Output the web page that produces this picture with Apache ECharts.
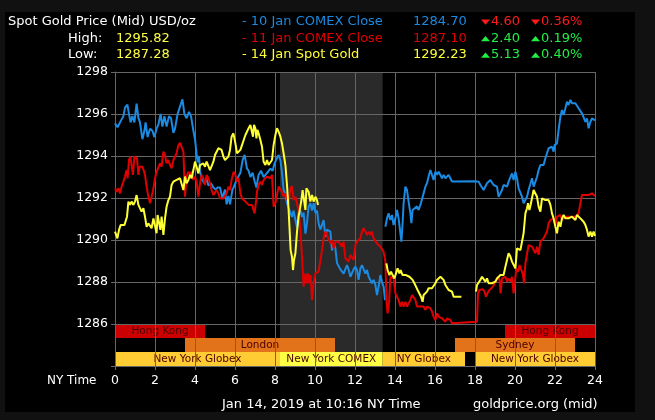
<!DOCTYPE html>
<html><head><meta charset="utf-8">
<script src="https://cdn.jsdelivr.net/npm/echarts@6/dist/echarts.min.js"></script>
<style>
html,body{margin:0;padding:0;background:#111111;}
#wrap{position:relative;width:655px;height:420px;background:#111111;overflow:hidden;}
#panel{position:absolute;left:5px;top:12px;width:630px;height:400px;background:#000;}
#c{position:absolute;left:0;top:0;width:655px;height:420px;}
</style>
</head><body>
<div id="wrap"><div id="panel"></div><div id="c"></div></div>
<script>
// ---- data ----
const xTickLabels = [0,2,4,6,8,10,12,14,16,18,20,22,24];
const yTickLabels = [1286,1288,1290,1292,1294,1296,1298];

// 10 Jan COMEX Close (blue) [hour, price]
const jan10 = [[0,1295.56],[0.13,1295.37],[0.25,1295.6],[0.42,1295.9],[0.5,1296.3],[0.62,1296.45],[0.7,1296.0],[0.78,1295.6],[0.87,1295.9],[0.97,1295.6],[1.08,1296.5],[1.17,1295.8],[1.25,1295.6],[1.37,1294.8],[1.47,1295.2],[1.53,1295.6],[1.63,1294.9],[1.75,1295.3],[1.87,1295.2],[1.97,1294.9],[2.08,1295.3],[2.17,1295.5],[2.28,1296.0],[2.37,1295.4],[2.47,1295.9],[2.58,1295.4],[2.7,1295.9],[2.8,1295.8],[2.92,1295.1],[3.0,1295.3],[3.13,1296.0],[3.25,1296.35],[3.37,1296.7],[3.47,1296.0],[3.58,1295.8],[3.7,1296.1],[3.8,1295.9],[3.92,1295.2],[4.0,1294.8],[4.08,1294.1],[4.13,1293.7],[4.2,1294.0],[4.25,1293.3],[4.33,1292.9],[4.47,1292.7],[4.58,1292.9],[4.67,1292.6],[4.8,1292.7],[4.92,1292.5],[5.03,1292.4],[5.13,1292.5],[5.25,1292.5],[5.37,1292.0],[5.5,1292.4],[5.58,1291.7],[5.67,1292.1],[5.75,1291.7],[5.87,1292.4],[5.93,1292.5],[6.1,1292.9],[6.27,1293.2],[6.38,1293.8],[6.48,1294.05],[6.6,1293.4],[6.68,1293.3],[6.77,1293.0],[6.88,1293.2],[6.98,1292.8],[7.07,1292.5],[7.18,1293.1],[7.3,1293.3],[7.43,1293.0],[7.52,1293.1],[7.65,1293.25],[7.77,1293.4],[7.88,1293.3],[7.98,1293.65],[8.1,1293.9],[8.18,1294.05],[8.27,1293.8],[8.35,1293.2],[8.43,1292.4],[8.52,1292.2],[8.6,1291.75],[8.68,1291.8],[8.77,1291.3],[8.85,1291.1],[8.93,1291.4],[9.02,1290.95],[9.1,1290.6],[9.18,1291.3],[9.27,1291.4],[9.35,1291.1],[9.43,1291.3],[9.52,1290.3],[9.6,1290.8],[9.68,1291.6],[9.77,1291.75],[9.85,1291.4],[9.93,1291.75],[10.02,1291.3],[10.1,1291.4],[10.18,1290.8],[10.27,1290.5],[10.35,1290.55],[10.43,1290.95],[10.52,1290.15],[10.6,1290.5],[10.68,1290.5],[10.77,1290.4],[10.85,1289.5],[10.93,1289.85],[11.02,1289.6],[11.1,1288.9],[11.18,1288.9],[11.27,1288.6],[11.35,1288.65],[11.43,1288.4],[11.52,1288.4],[11.6,1288.8],[11.68,1288.6],[11.77,1288.25],[11.85,1288.3],[11.93,1288.6],[12.02,1288.73],[12.1,1288.57],[12.18,1288.1],[12.27,1288.65],[12.35,1288.8],[12.43,1288.73],[12.52,1288.4],[12.6,1288.57],[12.68,1288.25],[12.77,1288.33],[12.85,1287.94],[12.93,1288.1],[13.02,1287.86],[13.1,1287.38],[13.18,1287.78],[13.27,1288.33],[13.35,1288.0],[13.43,1287.78],[13.5,1287.14],[13.51,null],
[13.52,1290.63],[13.6,1291.03],[13.68,1291.27],[13.77,1290.95],[13.85,1291.19],[13.93,1290.71],[14.02,1291.03],[14.1,1291.43],[14.18,1291.03],[14.27,1290.95],[14.32,1289.92],[14.38,1290.8],[14.43,1291.75],[14.52,1292.54],[14.6,1292.38],[14.68,1291.83],[14.77,1291.27],[14.82,1290.8],[14.88,1291.43],[14.98,1291.35],[15.1,1291.6],[15.18,1291.43],[15.27,1291.67],[15.35,1291.6],[15.43,1292.22],[15.52,1292.54],[15.6,1292.7],[15.68,1293.02],[15.77,1293.33],[15.85,1293.25],[15.93,1292.86],[16.02,1293.25],[16.1,1293.1],[16.18,1293.25],[16.27,1293.1],[16.35,1292.94],[16.43,1293.1],[16.52,1292.94],[16.6,1293.02],[16.68,1293.1],[16.77,1292.94],[16.85,1292.78],[18.02,1292.8],[18.18,1292.78],[18.27,1292.62],[18.35,1292.54],[18.43,1292.38],[18.52,1292.46],[18.6,1292.7],[18.68,1292.78],[18.77,1292.86],[18.85,1292.78],[18.93,1292.62],[19.02,1292.7],[19.1,1292.54],[19.18,1292.06],[19.27,1292.22],[19.35,1292.38],[19.43,1292.62],[19.52,1292.7],[19.6,1292.54],[19.68,1292.78],[19.77,1292.86],[19.85,1293.17],[19.93,1292.86],[20.02,1293.25],[20.1,1292.94],[20.18,1292.46],[20.27,1292.38],[20.35,1292.06],[20.43,1291.75],[20.52,1291.67],[20.6,1292.06],[20.68,1292.38],[20.77,1292.3],[20.85,1292.94],[20.93,1292.54],[21.02,1292.78],[21.1,1293.0],[21.18,1293.33],[21.27,1293.57],[21.35,1293.65],[21.43,1293.57],[21.52,1293.89],[21.6,1294.13],[21.68,1294.37],[21.77,1294.37],[21.85,1294.44],[21.93,1294.21],[21.98,1294.52],[22.1,1294.6],[22.18,1295.24],[22.27,1295.87],[22.35,1296.19],[22.43,1295.95],[22.52,1296.27],[22.6,1296.59],[22.68,1296.43],[22.77,1296.67],[22.85,1296.51],[22.93,1296.59],[23.02,1296.51],[23.1,1296.43],[23.18,1296.27],[23.27,1296.19],[23.35,1296.03],[23.43,1295.95],[23.52,1295.63],[23.6,1295.79],[23.68,1295.32],[23.77,1295.63],[23.85,1295.79],[23.93,1295.79],[24.0,1295.7]];

// 11 Jan COMEX Close (red)
const jan11 = [[0,1292.46],[0.08,1292.3],[0.17,1292.46],[0.25,1292.22],[0.33,1292.54],[0.42,1292.78],[0.5,1293.02],[0.58,1293.33],[0.63,1292.94],[0.7,1293.81],[0.77,1293.97],[0.83,1293.57],[0.9,1293.1],[0.97,1293.97],[1.03,1294.05],[1.1,1293.89],[1.17,1293.1],[1.23,1293.49],[1.3,1293.41],[1.37,1293.49],[1.43,1293.33],[1.5,1293.1],[1.58,1292.54],[1.67,1292.06],[1.75,1291.75],[1.83,1292.06],[1.92,1292.46],[2.0,1292.94],[2.08,1293.25],[2.17,1293.33],[2.25,1293.65],[2.33,1293.49],[2.42,1294.21],[2.5,1294.05],[2.58,1293.65],[2.67,1293.81],[2.75,1293.57],[2.83,1293.41],[2.92,1293.81],[3.0,1293.89],[3.08,1294.13],[3.17,1294.52],[3.25,1294.63],[3.33,1294.6],[3.42,1294.21],[3.5,1292.06],[3.58,1293.02],[3.67,1293.25],[3.75,1293.1],[3.83,1293.25],[3.92,1292.86],[4.0,1293.02],[4.08,1292.78],[4.17,1292.06],[4.25,1292.7],[4.33,1293.1],[4.42,1292.94],[4.5,1292.62],[4.58,1293.1],[4.67,1292.94],[4.75,1292.7],[4.83,1292.38],[4.92,1292.14],[5.0,1292.06],[5.08,1292.38],[5.17,1292.22],[5.25,1291.98],[5.33,1292.06],[5.42,1291.98],[5.5,1291.9],[5.58,1292.22],[5.67,1292.54],[5.75,1292.38],[5.83,1292.86],[5.93,1293.25],[6.02,1293.1],[6.1,1292.78],[6.18,1292.94],[6.27,1292.22],[6.35,1291.98],[6.43,1291.98],[6.52,1291.83],[6.6,1291.9],[6.68,1291.67],[6.77,1291.75],[6.85,1291.67],[6.93,1291.59],[6.98,1291.27],[7.05,1291.83],[7.1,1292.3],[7.18,1292.62],[7.27,1292.78],[7.35,1292.62],[7.43,1292.86],[7.52,1292.94],[7.6,1293.02],[7.68,1293.1],[7.77,1292.94],[7.85,1293.1],[7.93,1291.59],[8.02,1291.75],[8.1,1291.75],[8.18,1292.54],[8.27,1292.57],[8.35,1292.3],[8.43,1292.06],[8.52,1292.22],[8.6,1291.98],[8.68,1291.75],[8.77,1292.46],[8.85,1292.57],[8.93,1291.9],[9.02,1292.06],[9.1,1291.98],[9.18,1291.43],[9.27,1290.48],[9.35,1289.2],[9.43,1287.78],[9.52,1288.41],[9.6,1287.94],[9.65,1288.41],[9.72,1287.94],[9.78,1288.33],[9.85,1287.14],[9.93,1287.94],[10.02,1288.41],[10.1,1288.41],[10.18,1288.49],[10.27,1288.57],[10.35,1289.52],[10.43,1290.08],[10.52,1290.4],[10.6,1290.24],[10.68,1290.16],[10.77,1289.84],[10.85,1290.0],[10.93,1289.6],[11.02,1289.92],[11.1,1290.0],[11.18,1289.92],[11.27,1290.0],[11.35,1289.68],[11.43,1289.92],[11.52,1289.13],[11.6,1289.2],[11.68,1288.97],[11.77,1289.29],[11.85,1289.2],[11.93,1289.05],[12.02,1289.76],[12.1,1289.92],[12.18,1290.0],[12.27,1290.08],[12.35,1290.4],[12.43,1290.56],[12.52,1290.4],[12.6,1290.24],[12.68,1290.4],[12.77,1290.24],[12.85,1290.4],[12.93,1290.08],[13.02,1290.0],[13.1,1289.84],[13.18,1289.92],[13.27,1289.68],[13.35,1289.6],[13.43,1289.44],[13.52,1288.97],[13.57,1287.14],[13.63,1286.51],[13.7,1286.98],[13.77,1288.25],[13.85,1288.33],[13.93,1288.17],[14.02,1287.46],[14.1,1287.46],[14.18,1287.14],[14.27,1286.83],[14.35,1287.06],[14.43,1286.83],[14.52,1287.06],[14.6,1286.83],[14.68,1286.98],[14.77,1287.14],[14.85,1287.38],[14.93,1287.3],[15.02,1287.14],[15.1,1286.83],[15.18,1286.9],[15.27,1286.83],[15.35,1286.75],[15.43,1286.83],[15.52,1286.67],[15.6,1286.83],[15.68,1286.75],[15.77,1286.75],[15.85,1286.59],[15.93,1286.35],[16.02,1286.19],[16.1,1286.51],[16.18,1286.35],[16.27,1286.35],[16.35,1286.27],[16.43,1286.35],[16.52,1286.11],[16.6,1286.27],[16.68,1286.19],[16.77,1286.19],[16.85,1286.03],[16.93,1286.11],[18.1,1286.11],[18.15,1287.46],[18.22,1287.62],[18.32,1287.7],[18.4,1287.65],[18.48,1287.54],[18.55,1287.3],[18.62,1287.46],[18.72,1287.62],[18.82,1287.7],[18.9,1287.78],[18.98,1287.94],[19.07,1287.94],[19.15,1288.25],[19.23,1288.1],[19.28,1287.46],[19.35,1288.17],[19.43,1288.25],[19.52,1288.25],[19.6,1288.02],[19.68,1288.17],[19.77,1288.02],[19.85,1288.25],[19.93,1287.46],[20.02,1288.25],[20.07,1288.65],[20.15,1288.49],[20.23,1288.81],[20.32,1288.57],[20.4,1288.33],[20.45,1287.94],[20.52,1288.89],[20.6,1288.97],[20.68,1289.76],[20.77,1289.76],[20.85,1289.68],[20.93,1289.76],[21.02,1289.37],[21.1,1289.68],[21.18,1289.29],[21.27,1289.92],[21.35,1289.84],[21.43,1290.08],[21.52,1290.16],[21.6,1290.4],[21.68,1290.79],[21.77,1290.95],[21.85,1290.87],[21.93,1291.03],[22.02,1290.71],[22.1,1291.11],[22.18,1291.03],[22.27,1291.19],[22.35,1290.95],[22.43,1291.03],[22.52,1291.11],[22.6,1291.03],[22.68,1291.11],[22.77,1291.03],[22.85,1291.11],[22.93,1291.03],[23.02,1291.11],[23.1,1291.19],[23.18,1291.27],[23.27,1291.75],[23.35,1292.14],[23.43,1292.06],[23.52,1292.14],[23.6,1292.06],[23.68,1292.14],[23.77,1292.06],[23.85,1292.22],[23.93,1292.3],[24.0,1292.1]];

// 14 Jan Spot Gold (yellow)
const jan14 = [[0,1290.4],[0.03,1290.32],[0.12,1290.08],[0.2,1290.48],[0.28,1290.71],[0.37,1290.79],[0.47,1290.71],[0.55,1290.71],[0.6,1291.11],[0.67,1291.83],[0.75,1291.67],[0.83,1291.83],[0.92,1291.67],[1.0,1291.83],[1.08,1292.14],[1.17,1291.67],[1.25,1291.59],[1.33,1291.35],[1.42,1291.51],[1.5,1291.11],[1.58,1290.63],[1.67,1290.79],[1.75,1290.71],[1.83,1290.56],[1.92,1291.03],[2.0,1291.03],[2.08,1290.32],[2.13,1291.19],[2.2,1291.19],[2.27,1290.48],[2.33,1291.11],[2.42,1290.24],[2.5,1291.03],[2.58,1291.59],[2.67,1291.9],[2.75,1292.06],[2.83,1292.62],[2.92,1292.78],[3.0,1292.86],[3.08,1292.86],[3.17,1292.94],[3.25,1292.94],[3.33,1293.02],[3.42,1292.38],[3.5,1293.02],[3.58,1292.7],[3.67,1292.86],[3.75,1293.1],[3.83,1292.94],[3.92,1293.33],[4.0,1293.73],[4.08,1293.49],[4.17,1293.17],[4.25,1293.57],[4.33,1293.57],[4.42,1293.65],[4.5,1293.49],[4.58,1293.73],[4.67,1293.65],[4.75,1293.33],[4.83,1293.41],[4.92,1293.73],[5.0,1294.05],[5.08,1294.13],[5.17,1294.37],[5.25,1294.29],[5.33,1294.29],[5.42,1293.97],[5.5,1293.81],[5.58,1293.89],[5.67,1293.97],[5.75,1294.29],[5.83,1294.92],[5.92,1295.08],[6.0,1295.0],[6.02,1294.6],[6.1,1294.13],[6.18,1294.05],[6.27,1294.29],[6.35,1294.52],[6.43,1294.6],[6.52,1295.0],[6.6,1295.08],[6.68,1295.32],[6.77,1295.48],[6.85,1295.4],[6.9,1294.92],[6.95,1295.48],[7.02,1295.32],[7.07,1294.84],[7.12,1295.24],[7.18,1295.08],[7.27,1294.76],[7.35,1294.44],[7.43,1293.73],[7.52,1293.57],[7.6,1293.81],[7.68,1293.57],[7.77,1293.49],[7.85,1293.81],[7.93,1294.52],[8.02,1295.0],[8.1,1295.32],[8.18,1295.16],[8.27,1294.92],[8.35,1294.6],[8.43,1294.13],[8.52,1293.57],[8.6,1292.62],[8.68,1291.43],[8.73,1290.48],[8.78,1289.52],[8.85,1289.2],[8.9,1288.57],[8.95,1289.05],[9.02,1289.37],[9.1,1290.4],[9.18,1291.11],[9.27,1291.11],[9.32,1291.9],[9.38,1292.38],[9.45,1292.38],[9.52,1291.43],[9.57,1292.46],[9.62,1292.54],[9.68,1292.3],[9.77,1291.83],[9.85,1292.14],[9.93,1291.83],[10.02,1292.06],[10.1,1291.9],[10.15,1291.67],[10.2,null],
[13.57,1288.89],[13.63,1288.57],[13.72,1288.33],[13.8,1288.49],[13.88,1288.33],[13.97,1288.17],[14.05,1288.41],[14.13,1288.65],[14.22,1288.41],[14.28,1288.57],[14.38,1288.33],[14.47,1288.41],[14.55,1288.33],[14.63,1288.41],[14.72,1288.25],[14.8,1288.33],[14.88,1288.1],[14.97,1287.94],[15.05,1287.78],[15.13,1287.62],[15.22,1287.54],[15.3,1287.3],[15.38,1287.06],[15.43,1287.38],[15.52,1287.46],[15.6,1287.54],[15.68,1287.7],[15.77,1287.62],[15.85,1287.7],[15.93,1287.78],[16.02,1287.94],[16.1,1288.1],[16.18,1288.17],[16.27,1288.25],[16.35,1288.17],[16.43,1288.1],[16.52,1287.86],[16.6,1287.78],[16.68,1287.62],[16.77,1287.7],[16.85,1287.54],[16.93,1287.3],[17.02,1287.38],[17.1,1287.3],[17.18,1287.3],[17.32,1287.3],[17.6,null],
[18.05,1287.54],[18.1,1287.86],[18.18,1287.94],[18.27,1288.1],[18.35,1288.25],[18.43,1288.17],[18.52,1288.02],[18.6,1288.17],[18.68,1287.94],[18.77,1288.02],[18.85,1287.94],[18.93,1288.02],[19.02,1288.02],[19.1,1288.17],[19.18,1288.25],[19.27,1288.33],[19.35,1288.25],[19.43,1288.33],[19.52,1288.73],[19.6,1289.05],[19.68,1289.37],[19.77,1289.21],[19.85,1288.97],[19.93,1288.89],[20.02,1288.65],[20.1,1289.6],[20.18,1289.68],[20.27,1289.52],[20.35,1289.52],[20.43,1290.32],[20.52,1291.27],[20.6,1291.51],[20.65,1291.75],[20.72,1291.43],[20.78,1291.67],[20.85,1291.75],[20.93,1292.38],[21.02,1292.3],[21.1,1292.06],[21.18,1291.59],[21.27,1291.35],[21.35,1291.98],[21.43,1292.06],[21.52,1291.9],[21.6,1291.98],[21.68,1291.9],[21.77,1291.67],[21.85,1291.27],[21.93,1291.03],[22.02,1290.63],[22.1,1290.32],[22.18,1290.87],[22.27,1290.63],[22.35,1291.03],[22.43,1291.19],[22.52,1291.03],[22.6,1291.11],[22.68,1291.03],[22.77,1291.03],[22.85,1291.11],[22.93,1291.03],[23.02,1290.95],[23.1,1291.19],[23.18,1291.11],[23.27,1291.03],[23.35,1291.03],[23.43,1290.87],[23.52,1290.71],[23.6,1290.48],[23.68,1290.16],[23.77,1290.4],[23.85,1290.16],[23.93,1290.4],[24.0,1290.19]];

// trading sessions: name, start hour, end hour, row (0 top)
const sessionNames = ['Hong Kong','London','New York Globex','New York COMEX','NY Globex','Sydney','Hong Kong','New York Globex'];
const sessionStart = [0, 3.5, 0, 8.25, 13.38, 17, 19.5, 18];
const sessionEnd   = [4.5, 11, 8.25, 13.38, 17.5, 23, 24, 24];
const sessionRow   = [0, 1, 2, 2, 2, 1, 0, 2];
// shaded COMEX hours
const comexHours = [[8.25, 13.38]];

// header texts
const headerTitle = 'Spot Gold Price (Mid) USD/oz';
const highLow = [['High:', '1295.82'], ['Low:', '1287.28']];
const legendNames = ['- 10 Jan COMEX Close', '- 11 Jan COMEX Close', '- 14 Jan Spot Gold'];
const legendPrices = ['1284.70', '1287.10', '1292.23'];
const legendChange = ['4.60', '2.40', '5.13'];
const legendPct = ['0.36%', '0.19%', '0.40%'];
const legendUp = [false, true, true];
const footerLeft = 'Jan 14, 2019 at 10:16 NY Time';
const footerRight = 'goldprice.org (mid)';

// ---- styles ----
const FONT = '"DejaVu Sans", Verdana, sans-serif';
const HF = '13px ' + FONT;
const lineColors = ['#1a8ae2', '#e00000', '#ffff33'];
const sessionColor = {'Hong Kong':'#cc0000','London':'#e3731a','Sydney':'#e3731a','New York Globex':'#ffcc33','NY Globex':'#ffcc33','New York COMEX':'#ffff44'};
const ROW_H = 2/3, Y_TOP = 1286;

const chart = echarts.init(document.getElementById('c'), null, {renderer:'canvas'});

const sessionData = sessionNames.map((n,i)=>[sessionStart[i], sessionEnd[i], sessionRow[i], n]);

const graphics = [];
graphics.push({type:'text', x:8, y:22, style:{text:headerTitle, fill:'#ffffff', font:HF, verticalAlign:'middle'}});
highLow.forEach((r,i)=>{
  const y = 38.5 + i*16.5;
  graphics.push({type:'text', x:68, y:y, style:{text:r[0], fill:'#ffffff', font:HF, verticalAlign:'middle'}});
  graphics.push({type:'text', x:116, y:y, style:{text:r[1], fill:'#ffff44', font:HF, verticalAlign:'middle'}});
});
legendNames.forEach((n,i)=>{
  const y = 22 + i*16.5;
  const c = lineColors[i];
  graphics.push({type:'text', x:242, y:y, style:{text:n, fill:c, font:HF, verticalAlign:'middle'}});
  graphics.push({type:'text', x:413, y:y, style:{text:legendPrices[i], fill:c, font:HF, verticalAlign:'middle'}});
  const up = legendUp[i];
  const tc = up ? '#22ee44' : '#ff1a1a';
  [[481, legendChange[i]], [531, legendPct[i]]].forEach(p=>{
    const tx = p[0];
    const pts = up ? [[tx, y+2.7],[tx+9, y+2.7],[tx+4.5, y-2.5]] : [[tx, y-2.5],[tx+9, y-2.5],[tx+4.5, y+2.7]];
    graphics.push({type:'polygon', shape:{points:pts}, style:{fill:tc}});
    graphics.push({type:'text', x:tx+10, y:y, style:{text:p[1], fill:tc, font:HF, verticalAlign:'middle'}});
  });
});
graphics.push({type:'text', x:47, y:381, style:{text:'NY Time', fill:'#ffffff', font:'12px '+FONT, verticalAlign:'middle'}});
graphics.push({type:'text', x:222, y:405, style:{text:footerLeft, fill:'#ffffff', font:HF, verticalAlign:'middle'}});
graphics.push({type:'text', x:473, y:405, style:{text:footerRight, fill:'#ffffff', font:HF, verticalAlign:'middle'}});

const option = {
  backgroundColor: 'transparent',
  animation: false,
  grid: {left:115, right:60, top:72, bottom:54, containLabel:false},
  xAxis: {
    type:'value', min:0, max:24, interval:2, z:3,
    axisLine:{show:true, lineStyle:{color:'#666666', width:1}},
    axisTick:{show:true, length:4, lineStyle:{color:'#666666'}},
    axisLabel:{color:'#ffffff', fontSize:12.5, fontFamily:FONT, margin:8,
      formatter:v=> xTickLabels.indexOf(v)>=0 ? String(v) : ''},
    splitLine:{show:true, lineStyle:{color:'#666666', width:1}}
  },
  yAxis: {
    type:'value', min:1284, max:1298, interval:2, z:3,
    axisLine:{show:true, lineStyle:{color:'#666666', width:1}},
    axisTick:{show:true, length:4, lineStyle:{color:'#666666'}},
    axisLabel:{color:'#ffffff', fontSize:12.5, fontFamily:FONT, margin:7,
      formatter:v=> yTickLabels.indexOf(v)>=0 ? String(v) : ''},
    splitLine:{show:true, lineStyle:{color:'#666666', width:1}}
  },
  graphic: graphics,
  series: [
    {
      type:'custom', z:0, silent:true, data:comexHours,
      renderItem:(params, api)=>{
        const p0 = api.coord([api.value(0), 1298]);
        const p1 = api.coord([api.value(1), 1284]);
        return {type:'rect', shape:{x:p0[0], y:p0[1], width:p1[0]-p0[0], height:p1[1]-p0[1]}, style:{fill:'#2a2a2a'}};
      }
    },
    {
      type:'custom', z:1, silent:true, data:sessionData,
      renderItem:(params, api)=>{
        const d = sessionData[params.dataIndex];
        const yT = Y_TOP - d[2]*ROW_H, yB = yT - ROW_H;
        const p0 = api.coord([d[0], yT]);
        const p1 = api.coord([d[1], yB]);
        return {
          type:'rect',
          shape:{x:p0[0], y:p0[1], width:p1[0]-p0[0], height:p1[1]-p0[1]},
          style:{fill:sessionColor[d[3]]},
          textContent:{style:{text:d[3], fill:'#4a0000', font:'10.5px '+FONT}},
          textConfig:{position:'inside'}
        };
      }
    },
    {type:'line', z:5, data:jan10, showSymbol:false, connectNulls:false, lineStyle:{color:lineColors[0], width:2}, itemStyle:{color:lineColors[0]}},
    {type:'line', z:6, data:jan11, showSymbol:false, connectNulls:false, lineStyle:{color:lineColors[1], width:2}, itemStyle:{color:lineColors[1]}},
    {type:'line', z:7, data:jan14, showSymbol:false, connectNulls:false, lineStyle:{color:lineColors[2], width:2}, itemStyle:{color:lineColors[2]}}
  ]
};
chart.setOption(option);
</script>
</body></html>
